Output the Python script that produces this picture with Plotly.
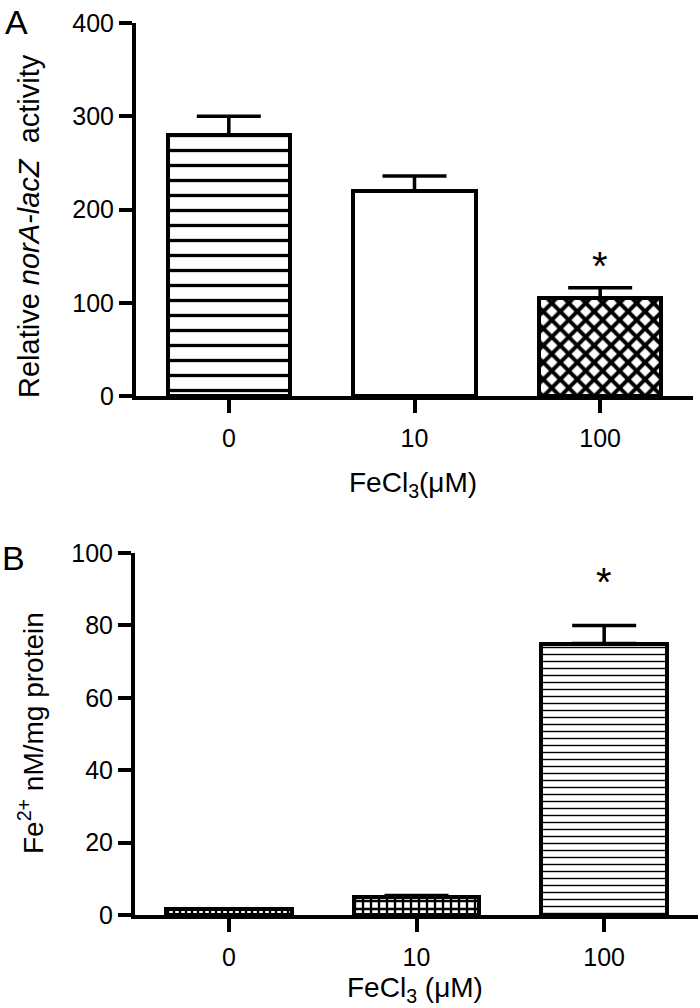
import plotly.graph_objects as go

# ---------------- data ----------------
categories = ["0", "10", "100"]

# Panel A: Relative norA-lacZ activity
a_values = [280, 220, 105]
a_errors = [20, 16, 11]

# Panel B: Fe2+ nM/mg protein
b_values = [1.7, 4.9, 75]
b_errors = [0, 0.5, 5]

a_ticks = [0, 100, 200, 300, 400]
b_ticks = [0, 20, 40, 60, 80, 100]

W, H = 700, 1008
FONT = "Liberation Sans, Arial, sans-serif"


def px(x):
    return x / W


def py(y):
    return 1 - y / H


xpos = list(range(len(categories)))

fig = go.Figure()

# Panel A bars
a_patterns = [
    dict(shape="-", fgcolor="black", bgcolor="white", size=15, solidity=0.22, fgopacity=1),
    dict(shape="", fgcolor="black", bgcolor="white"),
    dict(shape="x", fgcolor="black", bgcolor="white", size=12, solidity=0.55, fgopacity=1),
]
for i in range(3):
    fig.add_trace(go.Bar(
        x=[xpos[i]], y=[a_values[i]], xaxis="x", yaxis="y", width=0.66,
        marker=dict(color="white", line=dict(color="black", width=4),
                    pattern=a_patterns[i]),
        error_y=dict(type="data", symmetric=False, array=[a_errors[i]],
                     arrayminus=[0], color="black", thickness=3.5, width=32),
        showlegend=False,
    ))

# Panel B bars
b_patterns = [
    dict(shape="|", fgcolor="black", bgcolor="white", size=6, solidity=0.4, fgopacity=1),
    dict(shape="+", fgcolor="black", bgcolor="white", size=8, solidity=0.5, fgopacity=1),
    dict(shape="-", fgcolor="black", bgcolor="white", size=7, solidity=0.2, fgopacity=1),
]
for i in range(3):
    fig.add_trace(go.Bar(
        x=[xpos[i]], y=[b_values[i]], xaxis="x2", yaxis="y2", width=0.67,
        marker=dict(color="white", line=dict(color="black", width=4),
                    pattern=b_patterns[i]),
        error_y=dict(type="data", symmetric=False, array=[b_errors[i]],
                     arrayminus=[0], color="black", thickness=3.5, width=32,
                     visible=b_errors[i] > 0),
        showlegend=False,
    ))

axis_common = dict(showline=True, linewidth=4, linecolor="black", ticks="outside",
                   ticklen=13, tickwidth=4, tickcolor="black", showgrid=False,
                   zeroline=False, automargin=False,
                   tickfont=dict(family=FONT, size=25, color="black"))

fig.update_layout(
    width=W, height=H, autosize=False,
    margin=dict(l=0, r=0, t=0, b=0),
    paper_bgcolor="white", plot_bgcolor="white",
    bargap=0,
    xaxis=dict(domain=[px(136), px(693)], anchor="y", range=[-0.5, 2.5],
               tickvals=xpos, ticktext=categories, ticklabelstandoff=4, **axis_common),
    yaxis=dict(domain=[py(396), py(23)], anchor="x", range=[0, 400],
               tickvals=a_ticks, **axis_common),
    xaxis2=dict(domain=[px(135), px(698)], anchor="y2", range=[-0.5, 2.5],
                tickvals=xpos, ticktext=categories, ticklabelstandoff=4, **axis_common),
    yaxis2=dict(domain=[py(915), py(553)], anchor="x2", range=[0, 100],
                tickvals=b_ticks, **axis_common),
)


def note(text, x, y, size, xref="paper", angle=0):
    return dict(text=text, x=x, y=y, xref=xref, yref="paper", textangle=angle,
                xanchor="center", yanchor="middle", showarrow=False,
                font=dict(family=FONT, size=size, color="black"))


ann = [
    # panel letters
    note("A", px(16), py(22), 34),
    note("B", px(13), py(558), 34),
    # axis titles
    note("Relative <i>norA-lacZ</i>  activity", px(29), py(226), 29, angle=-90),
    note("FeCl<sub>3</sub>(μM)", px(413), py(484), 28),
    note("Fe<sup>2+</sup> nM/mg protein", px(31), py(733), 28, angle=-90),
    note("FeCl<sub>3</sub> (μM)", px(415), py(989), 28),
    # significance asterisks
    note("*", xpos[2], py(266), 40, xref="x"),
    note("*", xpos[2], py(582), 40, xref="x2"),
]
fig.update_layout(annotations=ann)

fig.write_html("out.html", config={"displayModeBar": False},
               post_script="document.body.style.margin='0';")
